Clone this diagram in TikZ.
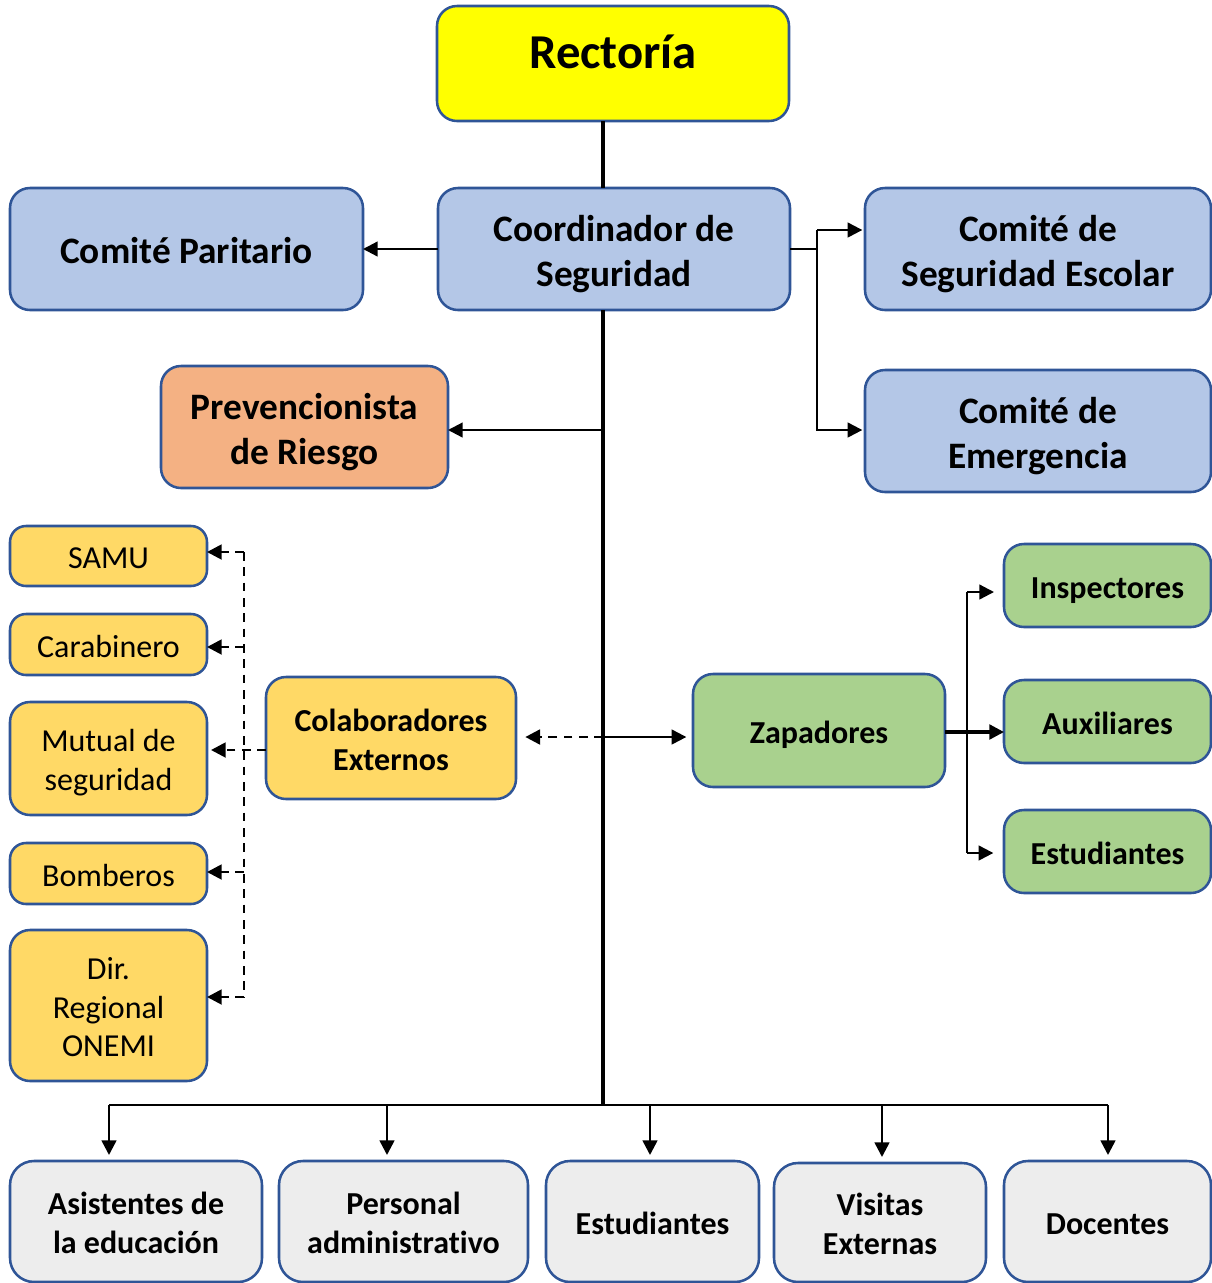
\documentclass[tikz,border=0pt]{standalone}
\usepackage{fontspec}
\setmainfont{Carlito}[Ligatures={NoCommon}]
\usetikzlibrary{arrows.meta}
\definecolor{bord}{HTML}{2F5597}
\definecolor{yel}{HTML}{FFFF00}
\definecolor{blu}{HTML}{B4C7E7}
\definecolor{ora}{HTML}{F4B183}
\definecolor{gol}{HTML}{FFD966}
\definecolor{grn}{HTML}{A9D18E}
\definecolor{gry}{HTML}{EDEDED}
\newcommand\mytopstrut{\rule{0pt}{1.1em}}
\newcommand\mybotstrut{\rule[-0.3em]{0pt}{0pt}}
\begin{document}
\begin{tikzpicture}[x=0.75pt,y=-0.75pt,
 box/.style={draw=bord, line width=1.9pt, rounded corners=15pt, inner sep=0pt, outer sep=0pt, align=center, text=black,
   execute at begin node=\mytopstrut, execute at end node=\mybotstrut},
 bigtxt/.style={font=\fontsize{28}{34}\selectfont\bfseries},
 midtxt/.style={font=\fontsize{24}{29}\selectfont\bfseries},
 regtxt/.style={font=\fontsize{24}{29}\selectfont},
 spine/.style={line width=3.2pt},
 conn/.style={line width=1.7pt},
 arr/.style={conn, -{Triangle[length=11pt,width=11pt]}},
 dline/.style={line width=2.1pt, dash pattern=on 6.5pt off 5pt},
 darr/.style={dline, -{Triangle[length=11pt,width=11pt]}},
]
\useasboundingbox (0,0) rectangle (1212,1283);
% top level
\node[box, fill=yel, minimum width=264pt, minimum height=86.25pt, font=\fontsize{36.5}{44}\selectfont\bfseries, text height=6.75pt, text depth=0pt] (rect) at (613,63.5) {Rectoría};
\node[box, fill=blu, bigtxt, minimum width=264pt, minimum height=91.5pt] (coord) at (614,249) {\mytopstrut Coordinador de\\Seguridad};
\node[box, fill=blu, bigtxt, minimum width=264.75pt, minimum height=91.5pt] (parit) at (186.5,249) {Comité Paritario};
\node[box, fill=blu, bigtxt, minimum width=259.5pt, minimum height=91.5pt] (esc) at (1038,249) {\mytopstrut Comité de\\Seguridad Escolar};
\node[box, fill=blu, bigtxt, minimum width=259.5pt, minimum height=91.5pt] (emer) at (1038,431) {\mytopstrut Comité de\\Emergencia};
\node[box, fill=ora, bigtxt, minimum width=215.25pt, minimum height=91.5pt] (prev) at (304.5,427) {\mytopstrut Prevencionista\\de Riesgo};
% external collaborators
\node[box, fill=gol, regtxt, rounded corners=12pt, minimum width=147.75pt, minimum height=45pt] (samu) at (108.5,556) {SAMU};
\node[box, fill=gol, regtxt, rounded corners=12pt, minimum width=147.75pt, minimum height=45.75pt] (carab) at (108.5,644.5) {Carabinero};
\node[box, fill=gol, regtxt, minimum width=147.75pt, minimum height=84.75pt] (mut) at (108.5,758.5) {\mytopstrut Mutual de\\seguridad};
\node[box, fill=gol, regtxt, rounded corners=12pt, minimum width=147.75pt, minimum height=45.75pt] (bomb) at (108.5,873.5) {Bomberos};
\node[box, fill=gol, regtxt, minimum width=147.75pt, minimum height=113.25pt] (dir) at (108.5,1005.5) {\mytopstrut Dir.\\Regional\\ONEMI};
\node[box, fill=gol, midtxt, minimum width=187.5pt, minimum height=91.5pt] (colab) at (391,738) {\mytopstrut Colaboradores\\Externos};
% zapadores
\node[box, fill=grn, midtxt, minimum width=189pt, minimum height=84.75pt] (zap) at (819,730.5) {Zapadores};
\node[box, fill=grn, midtxt, minimum width=155.25pt, minimum height=62.25pt] (insp) at (1107.5,585.5) {Inspectores};
\node[box, fill=grn, midtxt, minimum width=155.25pt, minimum height=62.25pt] (aux) at (1107.5,721.5) {Auxiliares};
\node[box, fill=grn, midtxt, minimum width=155.25pt, minimum height=62.25pt] (estg) at (1107.5,851.5) {Estudiantes};
% bottom row
\node[box, fill=gry, midtxt, rounded corners=18pt, minimum width=189pt, minimum height=90.75pt] (asis) at (136,1221.5) {\mytopstrut Asistentes de\\la educación};
\node[box, fill=gry, midtxt, rounded corners=18pt, minimum width=186.75pt, minimum height=90.75pt] (pers) at (403.5,1221.5) {\mytopstrut Personal\\administrativo};
\node[box, fill=gry, midtxt, rounded corners=18pt, minimum width=159.75pt, minimum height=90.75pt] (estb) at (652.5,1221.5) {Estudiantes};
\node[box, fill=gry, midtxt, rounded corners=18pt, minimum width=159pt, minimum height=89.25pt] (vis) at (880,1222.5) {\mytopstrut Visitas\\Externas};
\node[box, fill=gry, midtxt, rounded corners=18pt, minimum width=155.25pt, minimum height=90.75pt] (doc) at (1107.5,1221.5) {Docentes};
% coordinates
\coordinate (sp) at (603,1105);
\coordinate (rj1) at (817,230);
\coordinate (rj2) at (817,430);
\coordinate (mj) at (603,737);
\coordinate (zj1) at (967,592);
\coordinate (zj2) at (967,732);
\coordinate (zj3) at (967,853);
\coordinate (d1) at (244,552);
\coordinate (d2) at (244,647);
\coordinate (d3) at (244,750);
\coordinate (d4) at (244,872);
\coordinate (d5) at (244,997);
\coordinate (b1) at (109,1105);
\coordinate (b2) at (387,1105);
\coordinate (b3) at (650,1105);
\coordinate (b4) at (882,1105);
\coordinate (b5) at (1108,1105);
% spine
\draw[spine] (sp |- rect.south) -- (sp |- coord.north);
\draw[spine] (sp |- coord.south) -- (sp);
% coordinator branches
\draw[arr] (coord.west) -- (parit.east);
\draw[conn] (coord.east) -- (coord.east -| rj1) -- (rj1);
\draw[arr, shorten >=2pt] (rj1) -- (rj1 -| esc.west);
\draw[arr, shorten >=2pt] (rj1) -- (rj2) -- (rj2 -| emer.west);
\draw[arr] (sp |- rj2) -- (sp |- rj2 -| prev.east);
% middle branches
\draw[darr, shorten >=7pt] (mj) -- (mj -| colab.east);
\draw[arr, shorten >=5pt] (mj) -- (mj -| zap.west);
% dashed tree
\draw[dline] (d1) -- (d5);
\draw[darr] (d1) -- (d1 -| samu.east);
\draw[darr] (d2) -- (d2 -| carab.east);
\draw[darr, shorten >=3pt] (d3 -| colab.west) -- (d3 -| mut.east);
\draw[darr] (d4) -- (d4 -| bomb.east);
\draw[darr] (d5) -- (d5 -| dir.east);
% zapadores tree
\draw[line width=2.4pt] (zap.east |- zj2) -- (zj2);
\draw[conn] (zj1) -- (zj3);
\draw[arr, shorten >=7.5pt] (zj1) -- (zj1 -| insp.west);
\draw[arr, line width=2.4pt] (zj2) -- (zj2 -| aux.west);
\draw[arr, shorten >=8pt] (zj3) -- (zj3 -| estg.west);
% bottom
\draw[line width=1.9pt] (b1) -- (b5);
\draw[arr, line width=1.9pt, shorten >=4.5pt] (b1) -- (b1 |- asis.north);
\draw[arr, line width=1.9pt, shorten >=4.5pt] (b2) -- (b2 |- pers.north);
\draw[arr, line width=1.9pt, shorten >=4.5pt] (b3) -- (b3 |- estb.north);
\draw[arr, line width=1.9pt, shorten >=4.5pt] (b4) -- (b4 |- vis.north);
\draw[arr, line width=1.9pt, shorten >=4.5pt] (b5) -- (b5 |- doc.north);
\end{tikzpicture}
\end{document}
